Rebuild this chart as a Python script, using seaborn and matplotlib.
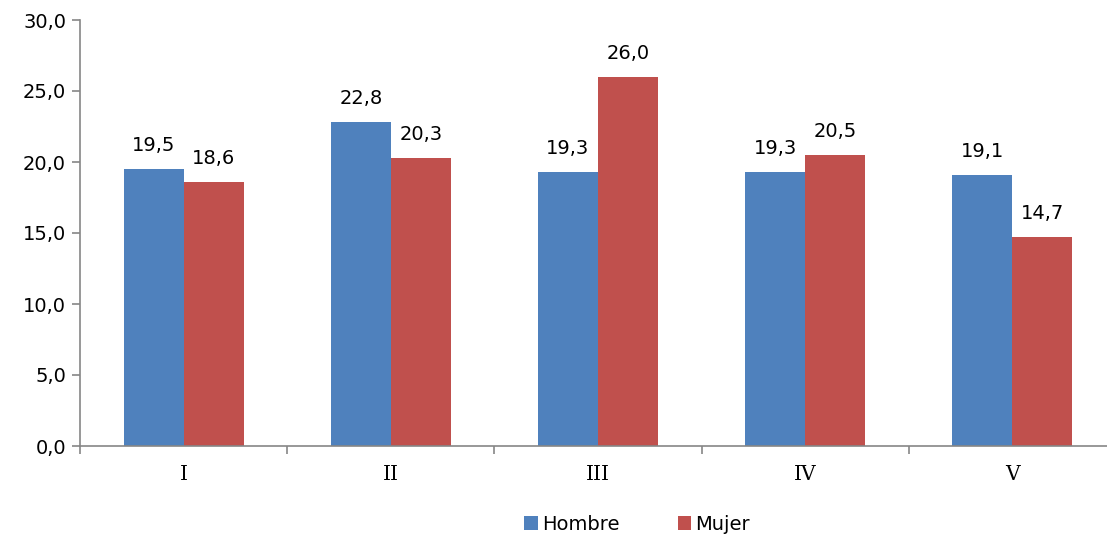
import numpy as np
import pandas as pd
import matplotlib
matplotlib.use("Agg")
import matplotlib.pyplot as plt
import seaborn as sns
from matplotlib.ticker import FuncFormatter, FixedLocator

# ====================== datos ======================
categorias = ["I", "II", "III", "IV", "V"]
hombre = [19.5, 22.8, 19.3, 19.3, 19.1]
mujer = [18.6, 20.3, 26.0, 20.5, 14.7]
series = ["Hombre", "Mujer"]
colores = ["#4F81BD", "#C0504D"]

df = pd.DataFrame({
    "cat": categorias * 2,
    "valor": hombre + mujer,
    "sexo": [series[0]] * len(categorias) + [series[1]] * len(categorias),
})

sns.set_style("white")
plt.rcParams["font.family"] = ["DejaVu Sans"]
plt.rcParams["text.color"] = "black"

fig = plt.figure(figsize=(11.07, 5.37), dpi=100)
ax = fig.add_axes([80 / 1107, 1 - 446 / 537, 1036 / 1107, 426 / 537])

sns.barplot(data=df, x="cat", y="valor", hue="sexo", palette=colores,
            width=0.58, ax=ax, legend=True, saturation=1, linewidth=0)

# etiquetas con coma decimal
for cont in ax.containers:
    ax.bar_label(cont, labels=[f"{v:.1f}".replace(".", ",") for v in cont.datavalues],
                 padding=10, fontsize=14, color="black")

ax.set_ylim(0, 30)
ax.set_xlim(-0.5, len(categorias) - 0.5)
ax.set_yticks(np.arange(0, 31, 5))
ax.yaxis.set_major_formatter(FuncFormatter(lambda v, p: f"{v:.1f}".replace(".", ",")))
ax.tick_params(axis="y", labelsize=14, labelcolor="black", length=6, color="#868686",
               width=1.2, direction="out", left=True, pad=4)

# ticks del eje x entre categorías, etiquetas centradas
ax.xaxis.set_major_locator(FixedLocator(np.arange(-0.5, len(categorias), 1)))
ax.xaxis.set_minor_locator(FixedLocator(np.arange(len(categorias))))
ax.set_xticklabels([""] * (len(categorias) + 1))
ax.set_xticklabels(categorias, minor=True, fontsize=14.5, family="DejaVu Serif")
ax.tick_params(axis="x", which="major", length=6, color="#868686", width=1.2, direction="out", bottom=True)
ax.tick_params(axis="x", which="minor", length=0, pad=14, labelcolor="black")

ax.set_xlabel("")
ax.set_ylabel("")
for s in ["top", "right"]:
    ax.spines[s].set_visible(False)
for s in ["left", "bottom"]:
    ax.spines[s].set_color("#868686")
    ax.spines[s].set_linewidth(1.2)

handles, labels = ax.get_legend_handles_labels()
ax.get_legend().remove()
fig.legend(handles, labels, loc="center", bbox_to_anchor=(637 / 1107, 1 - 524 / 537), ncol=2,
           frameon=False, fontsize=14, handlelength=0.7, handleheight=0.7, handletextpad=0.2,
           columnspacing=3.0, borderpad=0)

fig.savefig("out.png", dpi=100)
